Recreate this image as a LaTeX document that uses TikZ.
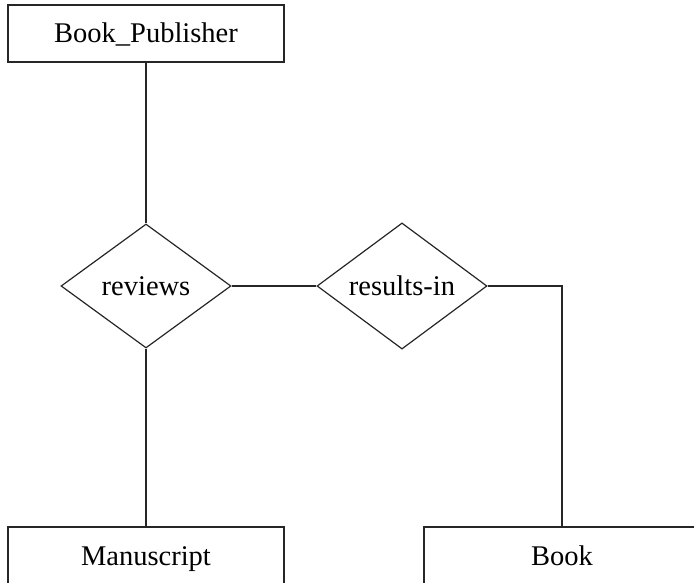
\documentclass[tikz,border=0pt]{standalone}
\usepackage{fontspec}
\setmainfont{Liberation Serif}
\usetikzlibrary{shapes.geometric}
\begin{document}
\begin{tikzpicture}[x=1pt,y=-1pt,
  erfont/.style={font=\fontsize{28.5}{34}\selectfont},
  entity/.style={draw=black!85, line width=1.2pt, rectangle, minimum width=276pt, minimum height=57pt, inner sep=0pt, text height=19pt, text depth=0pt, erfont},
  relation/.style={draw=black!85, line width=1.2pt, diamond, minimum width=170pt, minimum height=124pt, inner sep=0pt, erfont},
  link/.style={draw=black!85, line width=1.2pt}]
\useasboundingbox (0,0) rectangle (694,583);
\clip (0,0) rectangle (694,583);
% entities
\node[entity] (pub) at (146,33.5) {Book\_Publisher};
\node[entity] (man) at (146,555.5) {Manuscript};
\node[entity] (book) at (562,555.5) {Book};
% relationships
\node[relation] (rev) at (146,286) {reviews};
\node[relation] (res) at (402,286) {results-in};
% connectors
\draw[link] (pub.south) -- (rev.north);
\draw[link] (rev.south) -- (man.north);
\draw[link] (rev.east) -- (res.west);
\draw[link] (res.east) -| (book.north);
\end{tikzpicture}
\end{document}
